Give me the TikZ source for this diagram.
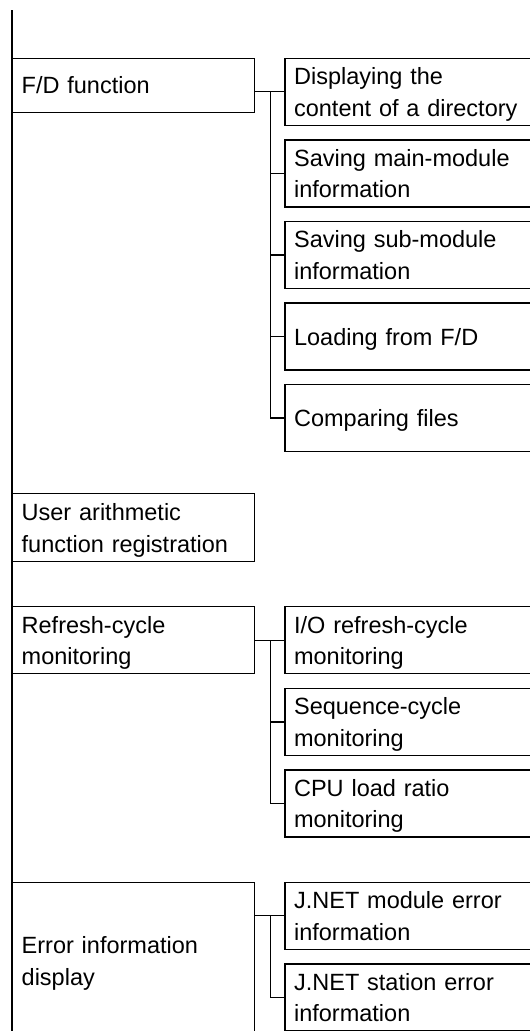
\documentclass[tikz,border=0pt]{standalone}
\usepackage{fontspec}
\setmainfont{Liberation Sans}
\usepackage{tikz}
\usetikzlibrary{positioning}

\begin{document}
\begin{tikzpicture}[x=1pt,y=-1pt,line width=1.4pt,node distance=13.2pt,
	every node/.style={font=\fontsize{23.5}{31.5}\selectfont}]
	\tikzstyle{box}=[draw,anchor=north west,align=left,inner xsep=9pt,inner ysep=0pt,
	text height=17.5pt,text depth=0pt]
	\tikzstyle{mainbox}=[box,text width=224pt]
	\tikzstyle{subbox}=[box,text width=252pt,minimum height=67pt]
	\tikzstyle{twoline}=[text depth=31.5pt]
	
	\useasboundingbox (0,0) rectangle (530,1031);
	\clip (0,0) rectangle (530,1031);
	
	\coordinate (top) at (12,10);
	\coordinate (bottom) at (12,1045);
	
	\node[mainbox,minimum height=54pt]         (fd)      at (12,57.5)  {F/D function};
	\node[mainbox,twoline,minimum height=68pt] (user)    at (12,493)   {User arithmetic\\function registration};
	\node[mainbox,twoline,minimum height=67pt] (refresh) at (12,606)   {Refresh-cycle\\monitoring};
	\node[mainbox,twoline,minimum height=157pt](error)   at (12,881.5) {Error information\\display};
	
	\node[subbox,twoline,below right=0pt and 29pt of fd.north east] (disp)     {Displaying the\\content of a directory};
	\node[subbox,twoline,below=of disp]                              (savemain) {Saving main-module\\information};
	\node[subbox,twoline,below=of savemain]                          (savesub)  {Saving sub-module\\information};
	\node[subbox,below=of savesub]                                   (load)     {Loading from F/D};
	\node[subbox,below=of load]                                      (cmp)      {Comparing files};
	
	\node[subbox,twoline,below right=0pt and 29pt of refresh.north east] (iocycle)  {I/O refresh-cycle\\monitoring};
	\node[subbox,twoline,below=of iocycle]                                (seqcycle) {Sequence-cycle\\monitoring};
	\node[subbox,twoline,below=of seqcycle]                               (cpuload)  {CPU load ratio\\monitoring};
	
	\node[subbox,twoline,below right=0pt and 29pt of error.north east] (moderr) {J.NET module error\\information};
	\node[subbox,twoline,below=of moderr]                               (staerr) {J.NET station error\\information};
	
	\coordinate (fdbus)      at ([xshift=15pt]fd.east);
	\coordinate (refreshbus) at ([xshift=15pt]refresh.east);
	\coordinate (errorbus)   at ([xshift=15pt]error.east);
	
	\draw (top) -- (bottom);
	
	% F/D function
	\draw (fd.east |- disp.west) -- (disp.west);
	\draw (fdbus |- disp.west) -- (fdbus |- cmp.west) -- (cmp.west);
	\foreach \n in {savemain,savesub,load}
	\draw (fdbus |- \n.west) -- (\n.west);
	
	% refresh-cycle monitoring
	\draw (refresh.east |- iocycle.west) -- (iocycle.west);
	\draw (refreshbus |- iocycle.west) -- (refreshbus |- cpuload.west) -- (cpuload.west);
	\draw (refreshbus |- seqcycle.west) -- (seqcycle.west);
	
	% error information
	\draw (error.east |- moderr.west) -- (moderr.west);
	\draw (errorbus |- moderr.west) -- (errorbus |- staerr.west) -- (staerr.west);
	
\end{tikzpicture}
\end{document}
